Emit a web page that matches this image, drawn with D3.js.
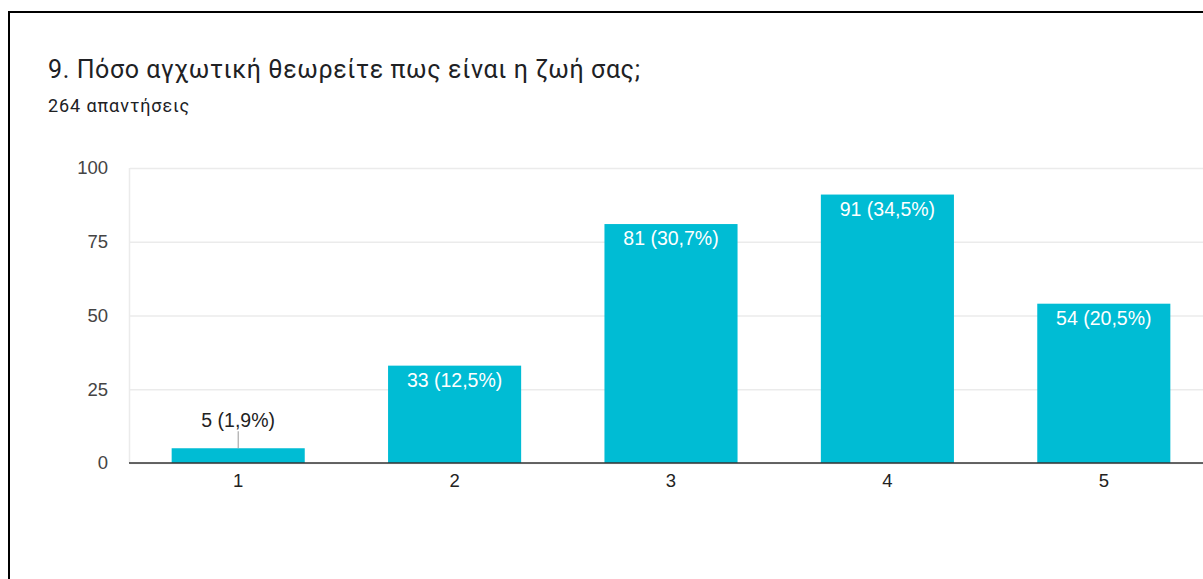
<!DOCTYPE html>
<html>
<head>
<meta charset="utf-8">
<script src="https://cdn.jsdelivr.net/npm/d3@7.9.0/dist/d3.min.js"></script>
<style>
  body { margin: 0; background: #fff; }
  svg { display: block; }
</style>
</head>
<body>
<svg id="chart" width="1203" height="579"></svg>
<script>
// chart data
const categories = ['1', '2', '3', '4', '5'];
const counts = [5, 33, 81, 91, 54];
const percents = ['1,9%', '12,5%', '30,7%', '34,5%', '20,5%'];
const yTicks = [0, 25, 50, 75, 100];
const title = '9. Πόσο αγχωτική θεωρείτε πως είναι η ζωή σας;';
const subtitle = '264 απαντήσεις';

const svg = d3.select('#chart');
const labelFont = 'Arial, "Liberation Sans", sans-serif';

// outer frame (cut off on the right and bottom)
svg.append('rect')
  .attr('x', 9).attr('y', 12)
  .attr('width', 1300).attr('height', 700)
  .attr('fill', 'none')
  .attr('stroke', '#000')
  .attr('stroke-width', 2);

// heading
svg.append('text')
  .attr('x', 48).attr('y', 78)
  .attr('font-family', 'Roboto, sans-serif')
  .attr('font-size', 25)
  .attr('letter-spacing', 0.6)
  .attr('fill', '#202124')
  .text(title);

svg.append('text')
  .attr('x', 48).attr('y', 112)
  .attr('font-family', 'Roboto, sans-serif')
  .attr('font-size', 18)
  .attr('letter-spacing', 0.9)
  .attr('fill', '#202124')
  .text(subtitle);

// scales
let x = d3.scaleBand()
  .domain(categories)
  .range([130, 1212])
  .paddingInner(0.385)
  .paddingOuter(0.1925);

let y = d3.scaleLinear()
  .domain([0, 100])
  .range([463, 168]);

// gridlines + y labels
let yAxis = d3.axisLeft(y)
  .tickValues(yTicks)
  .tickSize(-(1212 - 130))
  .tickPadding(22);

let gy = svg.append('g')
  .attr('transform', 'translate(130,0)')
  .call(yAxis);
gy.select('.domain').remove();
gy.selectAll('.tick line').attr('stroke', '#ebebeb').attr('stroke-width', 1.5);
gy.selectAll('.tick text')
  .attr('font-family', labelFont)
  .attr('font-size', 18.5)
  .attr('fill', '#444');

// left edge of the plot area
svg.append('line')
  .attr('x1', 129.5).attr('x2', 129.5)
  .attr('y1', y(100)).attr('y2', y(0))
  .attr('stroke', '#ebebeb').attr('stroke-width', 1.5);

// bars
svg.append('g')
  .selectAll('rect')
  .data(counts)
  .join('rect')
  .attr('x', (d, i) => x(categories[i]))
  .attr('y', d => y(d))
  .attr('width', x.bandwidth())
  .attr('height', d => y(0) - y(d))
  .attr('fill', '#00bcd4');

// baseline
svg.append('line')
  .attr('x1', 129).attr('x2', 1212)
  .attr('y1', y(0)).attr('y2', y(0))
  .attr('stroke', '#333').attr('stroke-width', 1.3);

// x labels
let xAxis = d3.axisBottom(x).tickSize(0).tickPadding(11);
let gx = svg.append('g')
  .attr('transform', `translate(0,${y(0)})`)
  .call(xAxis);
gx.select('.domain').remove();
gx.selectAll('.tick text')
  .attr('font-family', labelFont)
  .attr('font-size', 18.5)
  .attr('fill', '#222');

// value labels
counts.forEach((d, i) => {
  let cx = x(categories[i]) + x.bandwidth() / 2;
  let label = `${d} (${percents[i]})`;
  let tall = y(0) - y(d) > 30;
  if (tall) {
    svg.append('text')
      .attr('x', cx).attr('y', y(d) + 21)
      .attr('text-anchor', 'middle')
      .attr('font-family', labelFont)
      .attr('font-size', 19.5)
      .attr('fill', '#fff')
      .text(label);
  } else {
    svg.append('line')
      .attr('x1', cx).attr('x2', cx)
      .attr('y1', y(d)).attr('y2', y(d) - 17)
      .attr('stroke', '#999').attr('stroke-width', 1);
    svg.append('text')
      .attr('x', cx).attr('y', y(d) - 21)
      .attr('text-anchor', 'middle')
      .attr('font-family', labelFont)
      .attr('font-size', 19.5)
      .attr('fill', '#222')
      .text(label);
  }
});
</script>
</body>
</html>
